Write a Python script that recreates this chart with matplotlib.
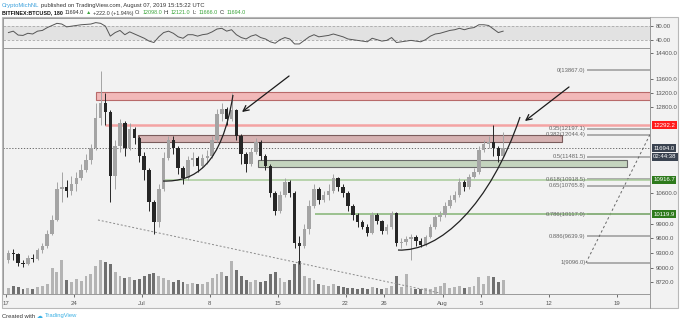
import numpy as np
import pandas as pd
import matplotlib
matplotlib.use("Agg")
import matplotlib.pyplot as plt
import matplotlib.dates as mdates
from matplotlib.patches import Rectangle, PathPatch
from matplotlib.path import Path
from matplotlib.lines import Line2D
from matplotlib.ticker import NullLocator

plt.rcParams["font.family"] = ["Liberation Sans", "DejaVu Sans"]

# --- BITFINEX:BTCUSD, 12h candles ---
start = "2019-06-17"
first_open = 9150

close = [9300, 9280, 9100, 9080, 9200, 9170, 9350, 9430, 9700, 10000,
         10700, 10750, 10650, 10800, 10950, 11150, 11400, 11700, 12500, 12900,
         12650, 11000, 11750, 12350, 11700, 12200, 11950, 11500, 11150, 10400,
         9950, 10700, 11450, 11900, 11700, 11200, 10950, 11400, 11450, 11250,
         11450, 11500, 11900, 12600, 12750, 12450, 12700, 12000, 11550, 11300,
         11600, 11850, 11500, 11250, 10600, 10200, 10550, 10850, 10600, 9500,
         9450, 9800, 10300, 10700, 10450, 10550, 10650, 10950, 10750, 10600,
         10300, 10100, 9950, 9850, 9720, 10100, 9980, 9750, 9850, 10150,
         9500, 9530, 9580, 9620, 9550, 9470, 9620, 9850, 10050, 10100,
         10300, 10450, 10550, 10850, 10750, 10980, 11100, 11650, 11800, 11850,
         11700, 11500, 11694]

high = [9350, 9380, 9300, 9150, 9260, 9280, 9400, 9500, 9780, 10100,
        10850, 11100, 10900, 11000, 11100, 11300, 11550, 11800, 12900, 13850,
        13200, 12700, 11900, 12450, 12400, 12350, 12250, 12000, 11600, 11200,
        10450, 10800, 11600, 12000, 12000, 11750, 11250, 11500, 11600, 11500,
        11550, 11650, 12000, 12750, 12900, 12800, 13200, 12750, 12050, 11600,
        11700, 11950, 11900, 11550, 11300, 10650, 10650, 10950, 10900, 10650,
        9650, 9900, 10450, 10800, 10750, 10650, 10800, 11050, 10980, 10800,
        10650, 10350, 10150, 10000, 9900, 10180, 10150, 10000, 9900, 10200,
        10180, 9600, 9650, 9700, 9680, 9600, 9680, 9900, 10100, 10200,
        10400, 10550, 10650, 10950, 10900, 11050, 11200, 11750, 11900, 12000,
        12300, 11750, 12121]

low = [9100, 9150, 9030, 9020, 9050, 9120, 9150, 9300, 9400, 9680,
       9980, 10400, 10500, 10550, 10650, 10900, 11100, 11300, 11650, 12300,
       12300, 10400, 10700, 11600, 11500, 11650, 11800, 11350, 10900, 10200,
       9700, 9850, 10650, 11400, 11550, 11050, 10800, 10900, 11250, 11100,
       11200, 11300, 11450, 11850, 12400, 12300, 12400, 11900, 11300, 11100,
       11250, 11550, 11400, 11150, 10500, 10100, 10150, 10500, 10500, 9400,
       9070, 9400, 9700, 10250, 10350, 10400, 10450, 10600, 10650, 10500,
       10200, 10000, 9850, 9800, 9650, 9700, 9900, 9700, 9700, 9800,
       9450, 9400, 9470, 9150, 9450, 9420, 9450, 9600, 9800, 9980,
       10050, 10250, 10400, 10500, 10650, 10700, 10950, 11050, 11600, 11700,
       11500, 11350, 11480]

volume = [6, 8, 7, 5, 6, 5, 7, 8, 10, 26,
          22, 34, 14, 12, 15, 13, 18, 20, 28, 34,
          32, 30, 22, 18, 16, 17, 14, 15, 18, 20,
          21, 18, 16, 14, 12, 14, 12, 10, 11, 10,
          10, 12, 16, 20, 22, 18, 33, 24, 18, 14,
          12, 14, 12, 13, 20, 22, 16, 12, 14, 30,
          33, 18, 16, 14, 10, 9, 8, 10, 8, 7,
          6, 6, 5, 6, 5, 7, 6, 5, 6, 8,
          18, 7, 20, 6, 5, 5, 6, 5, 7, 8,
          11, 6, 7, 8, 6, 7, 8, 17, 10, 18,
          17, 12, 14]

rsi = [62, 66, 55, 54, 60, 58, 66, 68, 76, 82,
       88, 86, 78, 80, 82, 84, 85, 86, 90, 88,
       80, 52, 62, 68, 56, 64, 58, 52, 46, 38,
       34, 50, 62, 66, 60, 50, 46, 56, 56, 52,
       56, 58, 64, 72, 74, 66, 70, 56, 48, 44,
       52, 56, 48, 44, 36, 32, 42, 48, 44, 30,
       30, 40, 50, 56, 50, 52, 54, 58, 54, 50,
       44, 42, 40, 38, 36, 46, 42, 38, 40, 48,
       34, 36, 38, 40, 38, 36, 42, 52, 58, 60,
       64, 68, 70, 74, 70, 74, 76, 84, 84, 82,
       72, 62, 66]

# --- levels drawn on the chart ---
red_zone = (13000, 13210)
red_line = 12292.2
brown_zone = (11850, 12040)
green_zone = (11220, 11400)
green_line_1 = 10916.7
green_line_2 = 10119.9
last_price = 11694.0

fib_ratios = ["0", "0.35", "0.382", "0.5", "0.618", "0.65", "0.786", "0.886", "1"]
fib_prices = [13867.0, 12197.1, 12044.4, 11481.5, 10918.5, 10765.8, 10117.0, 9639.9, 9096.0]

price_ticks = [14400, 13600, 13200, 12800, 10600, 9900, 9600, 9300, 9000, 8720]
date_ticks = ["2019-06-17", "2019-06-24", "2019-07-01", "2019-07-08", "2019-07-15",
              "2019-07-22", "2019-07-26", "2019-08-01", "2019-08-05", "2019-08-12",
              "2019-08-19"]
date_labels = ["17", "24", "Jul", "8", "15", "22", "26", "Aug", "5", "12", "19"]

# drawings: (days after start, price)
arrow_1 = [(29.18, 13693), (24.33, 12656)]
arrow_2 = [(58.04, 13368), (53.50, 12409)]
arc_1 = [(16.19, 10882), (19.48, 10859), (22.27, 11270), (23.40, 13136)]
arc_2 = [(40.41, 9357), (44.74, 9317), (49.90, 10326), (52.99, 12518)]
trend_down = [(9.48, 9993), (44.74, 8516)]
fib_diag = [(59.79, 9096), (69.69, 13867)]

BG = "#f2f2f2"
W, H = 680, 324


def fx(px):
    return px / W


def fy(py):
    return 1 - py / H


t0 = mdates.date2num(pd.Timestamp(start))
times = pd.date_range(start, periods=len(close), freq="12h")
xc = mdates.date2num(times) + 0.25
opens = np.array([first_open] + close[:-1], dtype=float)
closes = np.array(close, dtype=float)
up = closes >= opens

fig = plt.figure(figsize=(6.8, 3.24), dpi=100)
fig.patches.append(Rectangle((fx(2), fy(308)), fx(676), 291 / H, transform=fig.transFigure,
                             fc=BG, ec="#b8b8b8", lw=0.8, zorder=-5))

# --- main pane ---
ax = fig.add_axes([fx(3), fy(294), fx(647), 246 / H])
vax = ax.twinx()
vax.set_zorder(1)
ax.set_zorder(2)
ax.patch.set_visible(False)
vax.patch.set_facecolor(BG)

vol_cols = np.where(up, "#b4b4b4", "#707070")
vax.bar(xc, volume, width=0.3, color=vol_cols, lw=0)
vax.set_ylim(0, 246)
vax.axis("off")

ax.set_yscale("log")
ax.set_xlim(t0 - 0.31, t0 + 66.39)
ax.set_ylim(8499, 14558)
xend = t0 + 70

# zones and lines
ax.add_patch(Rectangle((t0 + 9.28, red_zone[0]), xend - t0 - 9.28, red_zone[1] - red_zone[0],
                       fc="#f2b9b9", ec="#b86a6a", lw=0.8, zorder=2))
ax.hlines(red_line, t0 + 10.2, xend, color="#f4a3a3", lw=1.8, zorder=2)
ax.add_patch(Rectangle((t0 + 13.6, brown_zone[0]), 43.7, brown_zone[1] - brown_zone[0],
                       fc="#d6b2b2", ec="#7a5c5c", lw=0.8, zorder=2))
ax.add_patch(Rectangle((t0 + 26.0, green_zone[0]), 38.0, green_zone[1] - green_zone[0],
                       fc="#c4d4be", ec="#6a6a6a", lw=0.8, zorder=2))

# fib retracement
for r, p in zip(fib_ratios, fib_prices):
    ax.hlines(p, t0 + 59.85, xend, color="#9a9a9a", lw=1.1, zorder=2)
    ax.text(t0 + 59.75, p, f"{r}({p:.1f})", ha="right", va="center", fontsize=4.2,
            color="#666666", zorder=3)
ax.plot([t0 + d for d, _ in fib_diag], [p for _, p in fib_diag], color="#666666",
        lw=0.7, ls=(0, (2.5, 2.5)), zorder=2)

ax.hlines(green_line_1, t0 + 16.2, xend, color="#a8cc9a", lw=1.1, zorder=2)
ax.hlines(green_line_2, t0 + 31.9, xend, color="#84b474", lw=1.1, zorder=2)
ax.axhline(last_price, color="#555555", lw=0.6, ls=(0, (1.5, 2)), zorder=2)

ax.plot([t0 + d for d, _ in trend_down], [p for _, p in trend_down], color="#8a8a8a",
        lw=0.7, ls=(0, (2, 2)), zorder=2)

# candles
cols = np.where(up, "#a4a4a4", "#262626")
ax.vlines(xc, low, high, colors=cols, lw=0.7, zorder=4)
body = np.maximum(np.abs(closes - opens), 15)
ax.bar(xc, body, width=0.36, bottom=np.minimum(opens, closes), color=cols, lw=0, zorder=4)

# curves and arrows
for arc in (arc_1, arc_2):
    verts = [(t0 + d, p) for d, p in arc]
    path = Path(verts, [Path.MOVETO, Path.CURVE4, Path.CURVE4, Path.CURVE4])
    ax.add_patch(PathPatch(path, fc="none", ec="#222222", lw=0.9, zorder=5))
for (d0, p0), (d1, p1) in (arrow_1, arrow_2):
    ax.annotate("", xy=(t0 + d1, p1), xytext=(t0 + d0, p0),
                arrowprops=dict(arrowstyle="->", color="#1a1a1a", lw=0.9,
                                shrinkA=0, shrinkB=0), zorder=5)

# price axis
ax.yaxis.tick_right()
ax.yaxis.set_minor_locator(NullLocator())
ax.set_yticks(price_ticks)
ax.set_yticklabels([f"{v:.1f}" for v in price_ticks])
ax.tick_params(axis="y", labelsize=4.3, colors="#555555", length=2.5, width=0.6, pad=1.5)

ytr = ax.get_yaxis_transform()
for val, txt, fc in [(red_line, "12292.2", "#ff1c1c"), (last_price, "11694.0", "#3a4350"),
                     (11480, "02:44:38", "#3a4350"), (green_line_1, "10916.7", "#2e7a1c"),
                     (green_line_2, "10119.9", "#2e7a1c")]:
    ax.text(1.005, val, txt, transform=ytr, ha="left", va="center", fontsize=4.3,
            color="white", bbox=dict(boxstyle="square,pad=0.25", fc=fc, ec="none"),
            clip_on=False, zorder=6)

# time axis
ax.set_xticks([mdates.date2num(pd.Timestamp(d)) for d in date_ticks])
ax.set_xticklabels(date_labels)
ax.tick_params(axis="x", labelsize=4.3, colors="#555555", length=2, width=0.6, pad=3)
for s in ax.spines.values():
    s.set_color("#9a9a9a")
    s.set_linewidth(0.7)

# --- RSI pane ---
rax = fig.add_axes([fx(3), fy(47.5), fx(647), 29.5 / H], sharex=ax)
rax.set_zorder(3)
rax.set_facecolor("#f4f4f4")
rax.axhspan(40, 80, color="#e2e2e2", lw=0)
rax.axhline(80, color="#a8a8a8", lw=0.6, ls=(0, (3, 2)))
rax.axhline(40, color="#a8a8a8", lw=0.6, ls=(0, (3, 2)))
rax.plot(xc, rsi, color="#555555", lw=0.7)
rax.set_ylim(20, 103)
rax.yaxis.tick_right()
rax.set_yticks([80, 40])
rax.set_yticklabels(["80.00", "40.00"])
rax.tick_params(axis="y", labelsize=4.3, colors="#555555", length=2.5, width=0.6, pad=1.5)
rax.tick_params(axis="x", bottom=False, labelbottom=False)
for s in rax.spines.values():
    s.set_color("#9a9a9a")
    s.set_linewidth(0.7)

fig.add_artist(Line2D([fx(650), fx(650)], [fy(308), fy(17)], transform=fig.transFigure,
                      color="#9a9a9a", lw=0.7))

# --- header / footer text ---
renderer = fig.canvas.get_renderer()


def write_run(pieces, x, y, size=4.2):
    for s, color, weight in pieces:
        t = fig.text(x, y, s, color=color, fontweight=weight, fontsize=size,
                     ha="left", va="center")
        bb = t.get_window_extent(renderer=renderer)
        x = bb.x1 / fig.bbox.width + 0.0025


GREEN = "#3aa53a"
DARK = "#333333"
write_run([("CryptoMichNL", "#3aa0dc", "normal"),
           ("published on TradingView.com, August 07, 2019 15:15:22 UTC", DARK, "normal")],
          fx(2), fy(5.5))
write_run([("BITFINEX:BTCUSD, 180", "#111111", "bold"), ("11694.0", DARK, "normal"),
           ("\u25b2", GREEN, "normal"), ("+222.0 (+1.94%)", DARK, "normal"),
           ("O:", DARK, "normal"), ("12098.0", GREEN, "normal"),
           ("H:", DARK, "normal"), ("12121.0", GREEN, "normal"),
           ("L:", DARK, "normal"), ("11666.0", GREEN, "normal"),
           ("C:", DARK, "normal"), ("11694.0", GREEN, "normal")],
          fx(2), fy(13), size=3.9)
write_run([("Created with", DARK, "normal"), ("\u2601", "#3ab0e4", "normal"),
           ("TradingView", "#3ab0e4", "normal")], fx(2), fy(316))

fig.savefig("out.png", dpi=100)
